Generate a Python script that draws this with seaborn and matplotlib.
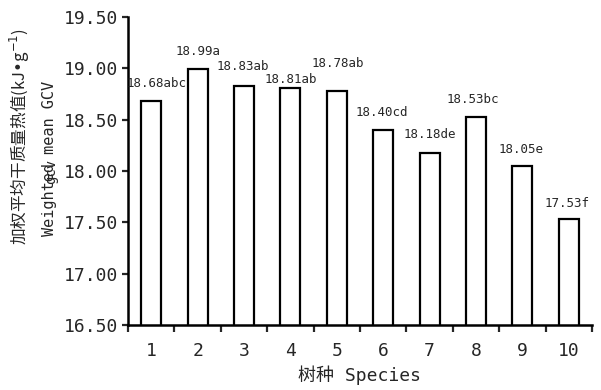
import numpy as np
import pandas as pd
import matplotlib
matplotlib.use('Agg')
import matplotlib.pyplot as plt
import seaborn as sns

# Data
species = ['1', '2', '3', '4', '5', '6', '7', '8', '9', '10']
gcv = [18.68, 18.99, 18.83, 18.81, 18.78, 18.40, 18.18, 18.53, 18.05, 17.53]
letters = ['abc', 'a', 'ab', 'ab', 'ab', 'cd', 'de', 'bc', 'e', 'f']
yticks = [16.5, 17.0, 17.5, 18.0, 18.5, 19.0, 19.5]

df = pd.DataFrame({'species': species, 'gcv': gcv})

sns.set_style('white')
plt.rcParams['font.family'] = ['DejaVu Sans Mono', 'Noto Sans CJK SC']
plt.rcParams['mathtext.fontset'] = 'dejavusans'

fig = plt.figure(figsize=(6.01, 3.9), dpi=100)
ax = fig.add_axes([0.213, 0.167, 0.772, 0.789])

sns.barplot(data=df, x='species', y='gcv', ax=ax, color='white',
            edgecolor='black', linewidth=1.6, width=0.43, saturation=1)

# value labels, staggered a bit by hand like in the original
label_dx = [4, 0, -1, 0, 1, -1, 0, -2, -1, -1]
label_dy = [10, 10.5, 11.5, 3.6, 17, 10, 10.5, 10, 9.5, 9]
for i, (v, l) in enumerate(zip(gcv, letters)):
    ax.annotate(f'{v:.2f}{l}', (i, v), xytext=(label_dx[i], label_dy[i]),
                textcoords='offset points', ha='center', va='baseline', fontsize=9)

ax.set_ylim(16.5, 19.5)
ax.set_yticks(yticks)
ax.set_yticklabels([f'{t:.2f}' for t in yticks], fontsize=13)
ax.set_xlim(-0.5, 9.5)

# ticks sit between the bars, labels at bar centres
ax.set_xticks(np.arange(-0.5, 10, 1))
ax.set_xticklabels([])
ax.set_xticks(np.arange(10), minor=True)
ax.set_xticklabels(species, minor=True, fontsize=13)
ax.tick_params(axis='x', which='major', direction='out', length=5, width=1.6, bottom=True)
ax.tick_params(axis='x', which='minor', length=0, pad=12)
ax.tick_params(axis='y', direction='out', length=4, width=1.6, left=True, pad=3)

for s in ['top', 'right']:
    ax.spines[s].set_visible(False)
for s in ['left', 'bottom']:
    ax.spines[s].set_linewidth(1.8)
    ax.spines[s].set_color('black')

ax.set_xlabel('树种 Species', fontsize=13, labelpad=4)

# two-line y label
fig.text(0.034, 0.649, '加权平均干质量热值(kJ•g$^{-1}$)', rotation=90,
         ha='center', va='center', fontsize=12, family='Noto Sans CJK SC')
fig.text(0.082, 0.595, 'Weighted mean GCV', rotation=90,
         ha='center', va='center', fontsize=11)

fig.savefig('out.png', dpi=100)
